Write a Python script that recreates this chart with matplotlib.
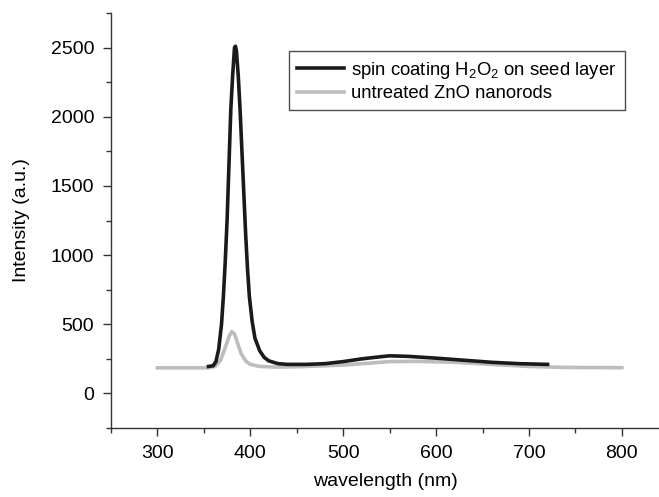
import matplotlib.pyplot as plt
from matplotlib.ticker import MultipleLocator

plt.rcParams["font.family"] = ["Liberation Sans", "DejaVu Sans"]
plt.rcParams["mathtext.fontset"] = "custom"
plt.rcParams["mathtext.rm"] = "Liberation Sans"

# spin coating H2O2 on seed layer (black)
treated_wl = [355, 360, 363, 366, 369, 371, 373, 375, 377, 379, 381, 383, 384,
              385, 387, 389, 391, 393, 395, 397, 399, 402, 405, 410, 415, 420,
              430, 440, 460, 480, 500, 520, 540, 550, 570, 600, 630, 660, 690, 720]
treated_int = [195, 200, 230, 320, 500, 700, 950, 1250, 1650, 2050, 2300, 2500, 2510,
               2480, 2300, 2050, 1750, 1450, 1150, 900, 700, 520, 400, 310, 260, 235,
               215, 210, 210, 215, 230, 250, 265, 272, 268, 255, 240, 225, 215, 210]

# untreated ZnO nanorods (grey)
untreated_wl = [300, 355, 362, 368, 373, 377, 380, 383, 386, 390, 395, 400, 410,
                430, 460, 500, 530, 550, 580, 620, 660, 700, 740, 800]
untreated_int = [185, 185, 195, 240, 330, 410, 448, 430, 370, 290, 235, 210, 195,
                 190, 195, 205, 220, 230, 232, 225, 210, 195, 188, 186]

fig = plt.figure(figsize=(6.59, 4.97), dpi=100)
ax = fig.add_axes([0.1684, 0.1388, 0.8316, 0.835])

ax.plot(treated_wl, treated_int, color="#1a1a1a", lw=2.6,
        label="spin coating H$_2$O$_2$ on seed layer", zorder=3)
ax.plot(untreated_wl, untreated_int, color="#bdbdbd", lw=2.6,
        label="untreated ZnO nanorods", zorder=2)

ax.set_xlim(250, 840)
ax.set_ylim(-250, 2750)
ax.xaxis.set_major_locator(MultipleLocator(100))
ax.xaxis.set_minor_locator(MultipleLocator(50))
ax.yaxis.set_major_locator(MultipleLocator(500))
ax.yaxis.set_minor_locator(MultipleLocator(250))
ax.set_xticks(range(300, 801, 100))

for s in ("top", "right"):
    ax.spines[s].set_visible(False)
for s in ("left", "bottom"):
    ax.spines[s].set_color("#333333")
    ax.spines[s].set_linewidth(1.0)

ax.tick_params(which="major", length=6, width=1, color="#333333",
               labelsize=14, pad=6)
ax.tick_params(which="minor", length=3.5, width=1, color="#333333")

ax.set_xlabel("wavelength (nm)", fontsize=14, labelpad=8)
ax.set_ylabel("Intensity (a.u.)", fontsize=14, labelpad=15)

leg = ax.legend(loc="upper left", bbox_to_anchor=(0.325, 0.908), fontsize=13.3,
                frameon=True, fancybox=False, handlelength=2.5,
                handletextpad=0.4, borderpad=0.45, labelspacing=0.25,
                borderaxespad=0)
leg.get_frame().set_edgecolor("#222222")
leg.get_frame().set_linewidth(1.0)

fig.savefig("out.png", dpi=100)
